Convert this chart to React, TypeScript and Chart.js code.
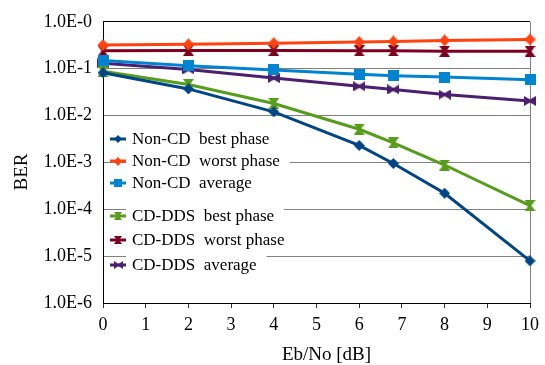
import React, { useEffect, useRef } from 'react';
import { Chart, registerables } from 'chart.js';

Chart.register(...registerables);

// ---- data ----
const ebNo = [0, 2, 4, 6, 6.8, 8, 10];
const nonCdBest = [0.082, 0.037, 0.012, 0.0023, 0.00095, 0.00022, 0.0000079];
const nonCdWorst = [0.32, 0.33, 0.35, 0.37, 0.38, 0.4, 0.42];
const nonCdAverage = [0.15, 0.115, 0.094, 0.076, 0.071, 0.066, 0.058];
const cdDdsBest = [0.088, 0.046, 0.018, 0.0051, 0.0026, 0.00088, 0.00012];
const cdDdsWorst = [0.24, 0.245, 0.245, 0.24, 0.24, 0.235, 0.235];
const cdDdsAverage = [0.13, 0.096, 0.063, 0.042, 0.036, 0.028, 0.0205];

const seriesNames = [
  'Non-CD  best phase',
  'Non-CD  worst phase',
  'Non-CD  average',
  'CD-DDS  best phase',
  'CD-DDS  worst phase',
  'CD-DDS  average',
];
const yTickValues = [1, 1e-1, 1e-2, 1e-3, 1e-4, 1e-5, 1e-6];
const xTickValues = [0, 1, 2, 3, 4, 5, 6, 7, 8, 9, 10];
const xTitle = 'Eb/No [dB]';
const yTitle = 'BER';

const FONT = "'Liberation Serif', 'DejaVu Serif', 'Times New Roman', serif";

type Shape = 'diamond' | 'square' | 'hourglass' | 'bowtie';

function makeMarker(shape: Shape, color: string, w: number, h: number): HTMLCanvasElement {
  const c = document.createElement('canvas');
  c.width = w;
  c.height = h;
  const g = c.getContext('2d')!;
  g.fillStyle = color;
  g.beginPath();
  if (shape === 'diamond') {
    g.moveTo(w / 2, 0);
    g.lineTo(w, h / 2);
    g.lineTo(w / 2, h);
    g.lineTo(0, h / 2);
    g.closePath();
  } else if (shape === 'square') {
    g.rect(0, 0, w, h);
  } else if (shape === 'hourglass') {
    const waist = w * 0.14;
    g.moveTo(0, 0);
    g.lineTo(w, 0);
    g.lineTo(w / 2 + waist, h / 2);
    g.lineTo(w, h);
    g.lineTo(0, h);
    g.lineTo(w / 2 - waist, h / 2);
    g.closePath();
  } else {
    const waist = h * 0.14;
    g.moveTo(0, 0);
    g.lineTo(w / 2, h / 2 - waist);
    g.lineTo(w, 0);
    g.lineTo(w, h);
    g.lineTo(w / 2, h / 2 + waist);
    g.lineTo(0, h);
    g.closePath();
  }
  g.fill();
  return c;
}

export default function App() {
  const ref = useRef<HTMLCanvasElement | null>(null);

  useEffect(() => {
    if (!ref.current) return;

    const specs: { data: number[]; color: string; shape: Shape; w: number; h: number }[] = [
      { data: nonCdBest, color: '#004586', shape: 'diamond', w: 11, h: 11 },
      { data: nonCdWorst, color: '#ff420e', shape: 'diamond', w: 11, h: 12 },
      { data: nonCdAverage, color: '#0084d1', shape: 'square', w: 11, h: 11 },
      { data: cdDdsBest, color: '#579d1c', shape: 'hourglass', w: 11, h: 11 },
      { data: cdDdsWorst, color: '#7e0021', shape: 'hourglass', w: 11, h: 11 },
      { data: cdDdsAverage, color: '#4b1f6f', shape: 'bowtie', w: 12, h: 10 },
    ];
    const markers = specs.map((s) => makeMarker(s.shape, s.color, s.w, s.h));
    const legendMarkers = specs.map((s) =>
      makeMarker(s.shape, s.color, Math.round(s.w * 0.75), Math.round(s.h * 0.75))
    );

    const datasets = specs.map((s, i) => ({
      label: seriesNames[i],
      data: ebNo.map((x, j) => ({ x, y: s.data[j] })),
      borderColor: s.color,
      backgroundColor: s.color,
      borderWidth: 3,
      pointStyle: markers[i] as any,
      pointRadius: 6,
      tension: 0,
      clip: false as any,
    }));

    const legendRowsY = [139, 161, 183, 216, 240, 265];

    const overlay = {
      id: 'overlay',
      afterDraw(chart: any) {
        const ctx = chart.ctx as CanvasRenderingContext2D;
        const area = chart.chartArea;
        ctx.save();
        // legend
        ctx.font = `17px ${FONT}`;
        ctx.textBaseline = 'middle';
        ctx.textAlign = 'left';
        const textX = 132;
        const markerX = 118;
        ctx.fillStyle = '#ffffff';
        seriesNames.forEach((name, i) => {
          const w = ctx.measureText(name).width;
          ctx.fillRect(textX - 6, legendRowsY[i] - 16, w + 16, 32);
        });
        seriesNames.forEach((name, i) => {
          const y = legendRowsY[i];
          ctx.strokeStyle = specs[i].color;
          ctx.lineWidth = 3;
          ctx.beginPath();
          ctx.moveTo(markerX - 8, y);
          ctx.lineTo(markerX + 8, y);
          ctx.stroke();
          const m = legendMarkers[i];
          ctx.drawImage(m, Math.round(markerX - m.width / 2), Math.round(y - m.height / 2));
          ctx.fillStyle = '#000000';
          ctx.fillText(name, textX, y + 1);
        });
        // axis titles
        ctx.font = `19px ${FONT}`;
        ctx.fillStyle = '#000000';
        ctx.textAlign = 'center';
        ctx.textBaseline = 'middle';
        ctx.fillText(xTitle, (area.left + area.right) / 2 + 10, 355);
        ctx.translate(22, 172);
        ctx.rotate(-Math.PI / 2);
        ctx.fillText(yTitle, 0, 0);
        ctx.restore();
      },
    };

    const chart = new Chart(ref.current, {
      type: 'line',
      data: { datasets: datasets as any },
      options: {
        animation: false,
        responsive: false,
        maintainAspectRatio: false,
        layout: { autoPadding: false, padding: { left: 0, right: 13, top: 15, bottom: 0 } },
        plugins: { legend: { display: false }, tooltip: { enabled: false } },
        scales: {
          x: {
            type: 'linear',
            min: 0,
            max: 10,
            afterBuildTicks: (scale: any) => {
              scale.ticks = xTickValues.map((v) => ({ value: v }));
            },
            afterFit: (scale: any) => {
              scale.height = 62;
            },
            ticks: {
              font: { family: FONT, size: 18 },
              color: '#000000',
              padding: 6,
              maxRotation: 0,
              callback: (v: any) => String(v),
            },
            grid: {
              color: (c: any) => (c.tick && c.tick.value === 10 ? '#808080' : 'rgba(0,0,0,0)'),
              tickColor: '#333333',
              tickLength: 5,
              lineWidth: 1,
            },
            border: { display: true, color: '#000000', width: 1 },
          },
          y: {
            type: 'logarithmic',
            min: 1e-6,
            max: 1,
            afterBuildTicks: (scale: any) => {
              scale.ticks = yTickValues.map((v) => ({ value: v }));
            },
            afterFit: (scale: any) => {
              scale.width = 103;
            },
            ticks: {
              font: { family: FONT, size: 18 },
              color: '#000000',
              padding: 11,
              callback: (v: any) => `1.0E-${Math.round(-Math.log10(Number(v)))}`,
            },
            grid: {
              color: (c: any) => (c.tick && c.tick.value === 1 ? '#000000' : '#808080'),
              drawTicks: false,
              lineWidth: 1,
            },
            border: { display: true, color: '#000000', width: 1 },
          },
        },
      },
      plugins: [overlay],
    });

    return () => chart.destroy();
  }, []);

  return (
    <div style={{ position: 'fixed', left: 0, top: 0, width: 545, height: 365, background: '#fff' }}>
      <canvas ref={ref} width={545} height={365} style={{ width: 545, height: 365, display: 'block' }} />
    </div>
  );
}
